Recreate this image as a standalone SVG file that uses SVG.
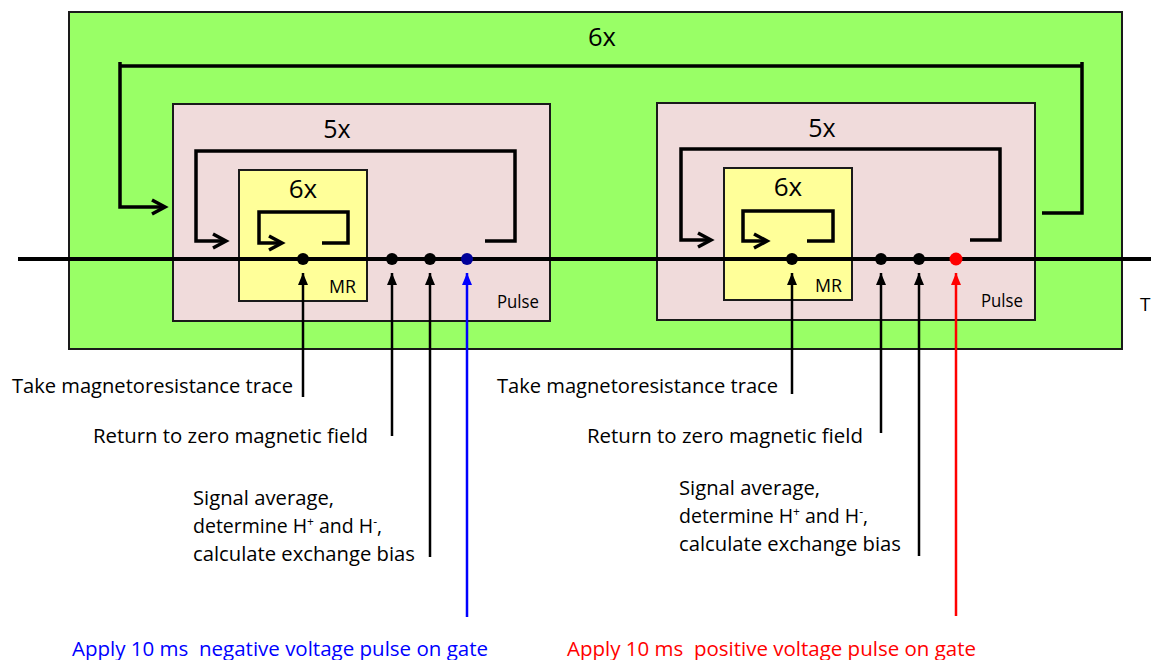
<svg xmlns="http://www.w3.org/2000/svg" width="1151" height="660" viewBox="0 0 1151 660">
<style>
.t{font-family:"Open Sans","Noto Sans","Liberation Sans",sans-serif;fill:#000}
.lp{fill:none;stroke:#000;stroke-width:3.5;stroke-linecap:butt;stroke-linejoin:miter}
.ld{fill:none;stroke:#000;stroke-width:2.5}
.chev{fill:none;stroke:#000;stroke-width:3.5}
</style>
<defs>
<marker id="upk" markerUnits="userSpaceOnUse" viewBox="0 0 10 12" refX="5" refY="0" markerWidth="10" markerHeight="12"><path d="M0,12 L5,0 L10,12 Z" fill="#000"/></marker>
<marker id="upb" markerUnits="userSpaceOnUse" viewBox="0 0 10 12" refX="5" refY="0" markerWidth="10" markerHeight="12"><path d="M0,12 L5,0 L10,12 Z" fill="#0000ff"/></marker>
<marker id="upr" markerUnits="userSpaceOnUse" viewBox="0 0 10 12" refX="5" refY="0" markerWidth="10" markerHeight="12"><path d="M0,12 L5,0 L10,12 Z" fill="#ff0000"/></marker>
</defs>
<rect width="1151" height="660" fill="#fff"/>

<g id="outer-loop-box">
<rect x="69" y="12" width="1053" height="337" fill="#99ff66" stroke="#1a1a1a" stroke-width="2"/>
<text class="t" x="602" y="46" font-size="25.5" text-anchor="middle">6x</text>
</g>

<g id="pulse-box-negative">
<rect x="173" y="104" width="377" height="217" fill="#f0dbdb" stroke="#1a1a1a" stroke-width="2"/>
<text class="t" x="337" y="138" font-size="25" text-anchor="middle">5x</text>
<text class="t" x="497" y="308" font-size="17.5" textLength="42" lengthAdjust="spacingAndGlyphs">Pulse</text>
</g>
<g id="mr-box-negative">
<rect x="239" y="170" width="128" height="131" fill="#ffff99" stroke="#1a1a1a" stroke-width="2"/>
<text class="t" x="303" y="198" font-size="26" text-anchor="middle">6x</text>
<text class="t" x="329" y="293" font-size="17.5" textLength="27" lengthAdjust="spacingAndGlyphs">MR</text>
</g>

<g id="pulse-box-positive">
<rect x="657" y="103" width="378" height="217" fill="#f0dbdb" stroke="#1a1a1a" stroke-width="2"/>
<text class="t" x="822" y="137" font-size="25" text-anchor="middle">5x</text>
<text class="t" x="981" y="307" font-size="17.5" textLength="42" lengthAdjust="spacingAndGlyphs">Pulse</text>
</g>
<g id="mr-box-positive">
<rect x="724" y="168" width="128" height="132" fill="#ffff99" stroke="#1a1a1a" stroke-width="2"/>
<text class="t" x="788" y="196" font-size="26" text-anchor="middle">6x</text>
<text class="t" x="815" y="292" font-size="17.5" textLength="27" lengthAdjust="spacingAndGlyphs">MR</text>
</g>

<g id="connectors">
<!-- outer 6x loop -->
<polyline class="lp" points="1042,213 1082,213 1082,62"/>
<polyline class="lp" points="1082,66 120,66"/>
<polyline class="lp" points="120,62 120,207 165,207"/>
<polyline class="chev" points="152,200 165,207 152,214"/>
<!-- left 5x loop -->
<polyline class="lp" points="485,241 515,241 515,151 196,151 196,241 226,241"/>
<polyline class="chev" points="213,234 226,241 213,248"/>
<!-- left 6x loop -->
<polyline class="lp" points="322,243 348,243 348,212 259,212 259,243 282,243"/>
<polyline class="chev" points="269,236 282,243 269,250"/>
<!-- right 5x loop -->
<polyline class="lp" points="970,240 1000,240 1000,149 681,149 681,240 711,240"/>
<polyline class="chev" points="698,233 711,240 698,247"/>
<!-- right 6x loop -->
<polyline class="lp" points="807,241 833,241 833,211 743,211 743,241 767,241"/>
<polyline class="chev" points="754,234 767,241 754,248"/>

<!-- time axis -->
<line x1="18" y1="259" x2="1151" y2="259" stroke="#000" stroke-width="4"/>

<!-- label arrows -->
<line class="ld" x1="303" y1="397" x2="303" y2="273" marker-end="url(#upk)"/>
<line class="ld" x1="392" y1="436" x2="392" y2="273" marker-end="url(#upk)"/>
<line class="ld" x1="430" y1="557" x2="430" y2="273" marker-end="url(#upk)"/>
<line x1="467" y1="617" x2="467" y2="273" stroke="#0000ff" stroke-width="2.5" marker-end="url(#upb)"/>
<line class="ld" x1="792" y1="394" x2="792" y2="273" marker-end="url(#upk)"/>
<line class="ld" x1="881" y1="433" x2="881" y2="273" marker-end="url(#upk)"/>
<line class="ld" x1="919" y1="556" x2="919" y2="273" marker-end="url(#upk)"/>
<line x1="956" y1="616" x2="956" y2="273" stroke="#ff0000" stroke-width="2.5" marker-end="url(#upr)"/>

<!-- event dots -->
<circle cx="303" cy="259" r="6" fill="#000"/>
<circle cx="392" cy="259" r="6" fill="#000"/>
<circle cx="430" cy="259" r="6" fill="#000"/>
<circle cx="467" cy="259" r="6" fill="#000099"/>
<circle cx="792" cy="259" r="6" fill="#000"/>
<circle cx="881" cy="259" r="6" fill="#000"/>
<circle cx="919" cy="259" r="6" fill="#000"/>
<circle cx="956" cy="259" r="6.5" fill="#ff0000"/>
</g>

<g id="labels-negative">
<text class="t" x="12" y="393" font-size="19.5" textLength="281" lengthAdjust="spacingAndGlyphs">Take magnetoresistance trace</text>
<text class="t" x="93" y="443" font-size="19.5" textLength="275" lengthAdjust="spacingAndGlyphs">Return to zero magnetic field</text>
<text class="t" x="193" y="505" font-size="19.5" textLength="141" lengthAdjust="spacingAndGlyphs">Signal average,</text>
<text class="t" x="193" y="533" font-size="19.5">determine H<tspan font-size="12" dy="-7">+</tspan><tspan dy="7"> and H</tspan><tspan font-size="12" dy="-7">-</tspan><tspan dy="7">,</tspan></text>
<text class="t" x="193" y="561" font-size="19.5" textLength="222" lengthAdjust="spacingAndGlyphs">calculate exchange bias</text>
<text class="t" x="72" y="656" font-size="20" style="fill:#0000ff" textLength="416" lengthAdjust="spacingAndGlyphs" xml:space="preserve">Apply 10 ms  negative voltage pulse on gate</text>
</g>

<g id="labels-positive">
<text class="t" x="497" y="393" font-size="19.5" textLength="281" lengthAdjust="spacingAndGlyphs">Take magnetoresistance trace</text>
<text class="t" x="587" y="443" font-size="19.5" textLength="276" lengthAdjust="spacingAndGlyphs">Return to zero magnetic field</text>
<text class="t" x="679" y="495" font-size="19.5" textLength="141" lengthAdjust="spacingAndGlyphs">Signal average,</text>
<text class="t" x="679" y="523" font-size="19.5">determine H<tspan font-size="12" dy="-7">+</tspan><tspan dy="7"> and H</tspan><tspan font-size="12" dy="-7">-</tspan><tspan dy="7">,</tspan></text>
<text class="t" x="679" y="551" font-size="19.5" textLength="222" lengthAdjust="spacingAndGlyphs">calculate exchange bias</text>
<text class="t" x="567" y="656" font-size="20" style="fill:#ff0000" textLength="409" lengthAdjust="spacingAndGlyphs" xml:space="preserve">Apply 10 ms  positive voltage pulse on gate</text>
</g>

<g id="axis-label">
<text class="t" x="1140" y="311" font-size="19">T</text>
</g>
</svg>
